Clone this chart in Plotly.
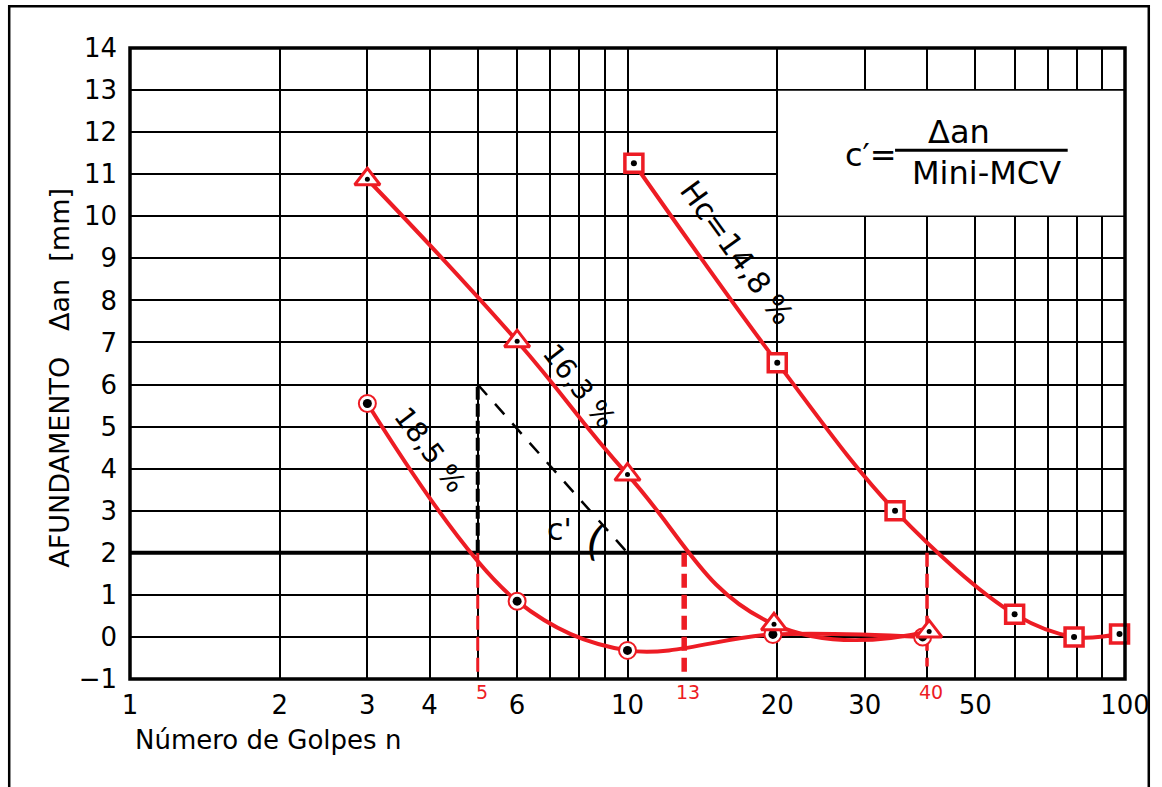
import math
import plotly.graph_objects as go

RED = "#ED1C24"
FONT = "DejaVu Sans"

# ---- data ----
n_grid = [1, 2, 3, 4, 5, 6, 7, 8, 9, 10, 20, 30, 40, 50, 60, 70, 80, 90, 100]
n_labels = ["1", "2", "3", "4", "", "6", "", "", "", "10", "20", "30", "", "50", "", "", "", "", "100"]
y_ticks = list(range(-1, 15))

# Hc = 18,5 %  (circles)
n_185 = [3, 6, 10, 19.6, 39.2]
a_185 = [5.55, 0.85, -0.32, 0.06, 0.0]
# Hc = 16,3 %  (triangles)
n_163 = [3, 6, 10, 19.7, 40.4]
a_163 = [10.88, 7.03, 3.86, 0.30, 0.13]
# Hc = 14,8 %  (squares)
n_148 = [10.3, 20, 34.5, 60, 79, 97.5]
a_148 = [11.26, 6.52, 3.0, 0.54, 0.0, 0.07]

# criterion line and read-off values
a_crit = 2
cut_n = [5, 13, 40]
cut_bottom = [-1, -1, -0.7]
cut_labels = ["5", "13", "40"]
cut_width = [3, 5.5, 3.5]

# c' construction (black dashed)
c_vert_n = [5, 5]
c_vert_a = [2, 6]
c_diag_n = [5, 10]
c_diag_a = [6, 2]

# formula box (n from 20 to 100, a from 10 to 13)
box_n = [20, 100]
box_a = [10, 13]

L = math.log10  # annotations on a log axis take log10 positions

fig = go.Figure()

def series(nx, ay, symbol, size, lw, dot, smooth):
    fig.add_trace(go.Scatter(
        x=nx, y=ay, mode="lines+markers",
        line=dict(color=RED, width=4, shape="spline", smoothing=smooth),
        marker=dict(symbol=symbol, size=size, color="white", line=dict(color=RED, width=lw)),
        cliponaxis=False, showlegend=False, hoverinfo="skip"))
    fig.add_trace(go.Scatter(
        x=nx, y=ay, mode="markers",
        marker=dict(symbol="circle", size=dot, color="black"),
        cliponaxis=False, showlegend=False, hoverinfo="skip"))

# red dashed read-off lines
for nx, yb, w in zip(cut_n, cut_bottom, cut_width):
    fig.add_trace(go.Scatter(x=[nx, nx], y=[a_crit, yb], mode="lines",
                             line=dict(color=RED, width=w, dash="14px,7px"),
                             showlegend=False, hoverinfo="skip"))

# black dashed construction
fig.add_trace(go.Scatter(x=c_vert_n, y=c_vert_a, mode="lines",
                         line=dict(color="black", width=4, dash="13px,4px"),
                         showlegend=False, hoverinfo="skip"))
fig.add_trace(go.Scatter(x=c_diag_n, y=c_diag_a, mode="lines",
                         line=dict(color="black", width=2.5, dash="14px,12px"),
                         showlegend=False, hoverinfo="skip"))

series(n_185, a_185, "circle", 17, 2, 9, 1.0)
series(n_163, a_163, "triangle-up", 22, 3, 5, 1.3)
series(n_148, a_148, "square", 18, 3.5, 6, 1.0)

shapes = [
    dict(type="line", xref="paper", x0=0, x1=1, yref="y", y0=a_crit, y1=a_crit,
         line=dict(color="black", width=4), layer="between"),
    dict(type="rect", xref="x", yref="y", x0=box_n[0], x1=box_n[1], y0=box_a[0], y1=box_a[1],
         fillcolor="white", line=dict(color="black", width=1.5), layer="between"),
    dict(type="rect", xref="paper", yref="paper", x0=0, x1=1, y0=0, y1=1,
         line=dict(color="black", width=3.5), layer="above"),
    dict(type="rect", xref="paper", yref="paper", x0=-0.1214, x1=1.0239, y0=-0.25, y1=1.066,
         line=dict(color="black", width=2.5), layer="above"),
]

ann = []
for nx, lab in zip(cut_n, cut_labels):
    ann.append(dict(x=L(nx), y=-1, xref="x", yref="y", text=lab, showarrow=False,
                    yshift=-13, xshift=4, font=dict(family=FONT, size=19, color=RED)))

def txt(n, a, text, angle=0, size=28):
    ann.append(dict(x=L(n), y=a, xref="x", yref="y", text=text, textangle=angle,
                    showarrow=False, font=dict(family=FONT, size=size, color="black")))

# curve labels
txt(4.0, 4.45, "18,5 %", 53, 28)
txt(8.0, 5.95, "16,3 %", 52, 28)
txt(16.6, 9.15, "Hc=14,8 %", 54, 30)
txt(7.3, 2.55, "c'", 0, 30)
txt(8.6, 2.3, "(", 15, 42)

# formula
txt(30.8, 11.45, "c′=", 0, 32)
txt(46.3, 12.0, "Δan", 0, 32)
txt(52.6, 11.02, "Mini-MCV", 0, 32)
shapes.append(dict(type="line", xref="x", yref="y", x0=34.5, x1=76.7, y0=11.57, y1=11.57,
                   line=dict(color="black", width=3)))

# axis titles
ann += [
    dict(xref="paper", yref="paper", x=-0.0716, y=0.477, xanchor="center", yanchor="middle",
         text="AFUNDAMENTO   Δan  [mm]", textangle=-90, showarrow=False,
         font=dict(family=FONT, size=27, color="black")),
    dict(xref="paper", yref="paper", x=0.003, y=-0.097, xanchor="left", yanchor="middle",
         text="Número de Golpes n", showarrow=False, font=dict(family=FONT, size=26, color="black")),
]

fig.update_layout(
    width=1162, height=787,
    margin=dict(l=130, r=27, t=48, b=108),
    paper_bgcolor="white", plot_bgcolor="white",
    shapes=shapes, annotations=ann,
    xaxis=dict(type="log", range=[0, 2], tickvals=n_grid, ticktext=n_labels,
               showgrid=True, gridcolor="black", gridwidth=1.5, zeroline=False,
               showline=False, ticks="", ticklabelstandoff=8,
               tickfont=dict(family=FONT, size=26, color="black")),
    yaxis=dict(range=[-1, 14], tickvals=y_ticks, showgrid=True, gridcolor="black",
               gridwidth=1.5, zeroline=False, showline=False, ticks="", ticklabelstandoff=12,
               tickfont=dict(family=FONT, size=26, color="black")),
    font=dict(family=FONT),
)

fig.write_html("out.html")
